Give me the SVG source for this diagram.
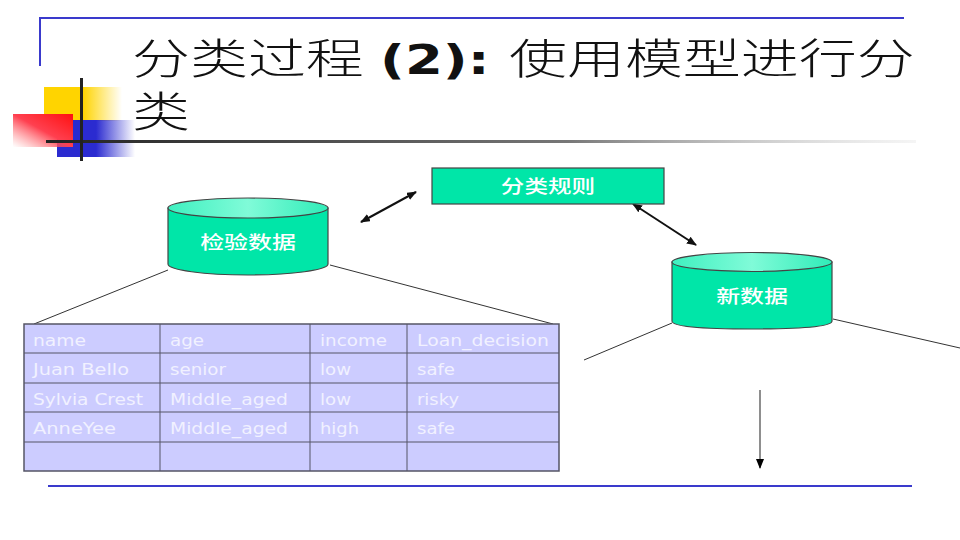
<svg xmlns="http://www.w3.org/2000/svg" width="960" height="540" viewBox="0 0 960 540">
<style>
.title{font-family:"Noto Sans CJK SC","Noto Sans",sans-serif;font-weight:300;font-size:42px;fill:#111}
.b{font-family:"DejaVu Sans",sans-serif;font-weight:700;font-size:41px;fill:#111}
.lab{font-family:"Noto Sans CJK SC",sans-serif;font-weight:500;font-size:18px;fill:#fff;text-anchor:middle}
.cell{font-family:"DejaVu Sans",sans-serif;font-size:15px;fill:#f1f1ff}
.grid{stroke:#555566;fill:none}
.thin{stroke:#333;stroke-width:1;fill:none}
.dbl{stroke:#111;stroke-width:2;fill:none;marker-start:url(#as);marker-end:url(#ae)}
.cyl{fill:#00e6a8;stroke:#444;stroke-width:1.2}
.top{fill:url(#topg);stroke:#444;stroke-width:1.2}
.rule{stroke:#3a3acc;stroke-width:2;fill:none}
</style>
<defs>
<marker id="ae" markerWidth="10" markerHeight="8" refX="9" refY="4" orient="auto" markerUnits="userSpaceOnUse"><path d="M0 0L10 4L0 8z" fill="#111"/></marker>
<marker id="as" markerWidth="10" markerHeight="8" refX="1" refY="4" orient="auto" markerUnits="userSpaceOnUse"><path d="M10 0L0 4L10 8z" fill="#111"/></marker>
<marker id="ad" markerWidth="10" markerHeight="8" refX="9" refY="4" orient="auto" markerUnits="userSpaceOnUse"><path d="M0 0L10 4L0 8z" fill="#000"/></marker>
<linearGradient id="topg" x1="0" y1="0" x2="1" y2="0"><stop offset="0" stop-color="#3ff0c0"/><stop offset=".5" stop-color="#80fbd8"/><stop offset="1" stop-color="#30ecb8"/></linearGradient>
<linearGradient id="yg" x1="0" y1="0" x2="1" y2="0"><stop offset="0" stop-color="#ffd400"/><stop offset=".5" stop-color="#ffd400"/><stop offset="1" stop-color="#ffd400" stop-opacity="0"/></linearGradient>
<linearGradient id="bg" x1="0" y1="0" x2="1" y2="0"><stop offset="0" stop-color="#2b2bd0"/><stop offset=".5" stop-color="#2b2bd0"/><stop offset="1" stop-color="#2b2bd0" stop-opacity="0"/></linearGradient>
<linearGradient id="rg" x1="1" y1="0" x2="0" y2="1"><stop offset="0" stop-color="#ff1010"/><stop offset=".5" stop-color="#ff4050"/><stop offset="1" stop-color="#ff8080" stop-opacity="0"/></linearGradient>
<linearGradient id="lg" x1="0" y1="0" x2="1" y2="0"><stop offset="0" stop-color="#222"/><stop offset=".6" stop-color="#777"/><stop offset="1" stop-color="#ccc" stop-opacity=".2"/></linearGradient>
</defs>
<rect width="960" height="540" fill="#fff"/>
<g id="frame"><path class="rule" d="M40 66V18H904"/><path class="rule" d="M48 486H912"/></g>
<g id="logo">
<rect x="44" y="87" width="78" height="34" fill="url(#yg)"/>
<rect x="57" y="120" width="78" height="37" fill="url(#bg)"/>
<rect x="13" y="114" width="60" height="33" fill="url(#rg)"/>
<rect x="46" y="140" width="870" height="3" fill="url(#lg)"/>
<rect x="80" y="78" width="3" height="83" fill="#222"/>
</g>
<g id="title">
<text class="title" transform="translate(132 74) scale(1.38 1)"><tspan x="0">分</tspan><tspan x="42">类</tspan><tspan x="84">过</tspan><tspan x="126">程</tspan></text>
<text class="b" transform="translate(380 74) scale(1.33 1)">(2):</text>
<text class="title" transform="translate(509 74) scale(1.38 1)"><tspan x="0">使</tspan><tspan x="42">用</tspan><tspan x="84">模</tspan><tspan x="126">型</tspan><tspan x="168">进</tspan><tspan x="210">行</tspan><tspan x="252">分</tspan></text>
<text class="title" transform="translate(132 127) scale(1.38 1)">类</text>
</g>
<g id="connectors">
<path class="dbl" d="M361 222L416 192"/>
<path class="dbl" d="M633 204L696 245"/>
<path class="thin" d="M168 270L34 324"/>
<path class="thin" d="M330 265L553 324"/>
<path class="thin" d="M672 323L584 360"/>
<path class="thin" d="M833 319L960 348"/>
<path d="M760 390V468" stroke="#444" stroke-width="1.2" fill="none" marker-end="url(#ad)"/>
</g>
<g id="rule-node"><rect x="432" y="168" width="232" height="36" fill="#00e6a8" stroke="#444" stroke-width="1.2"/><text class="lab" transform="translate(548 193) scale(1.31 1)">分类规则</text></g>
<g id="test-data">
<path class="cyl" d="M168 208V264C168 270 204 275 248 275S328 270 328 264V208z"/>
<ellipse class="top" cx="248" cy="208" rx="80" ry="10"/>
<text class="lab" transform="translate(248 249) scale(1.33 1)">检验数据</text>
</g>
<g id="new-data">
<path class="cyl" d="M672 262V321C672 327 708 329 752 329S832 327 832 321V262z"/>
<ellipse class="top" cx="752" cy="262" rx="80" ry="9.500"/>
<text class="lab" transform="translate(752 303) scale(1.33 1)">新数据</text>
</g>
<g id="table">
<rect x="24" y="324" width="535" height="147" fill="#ccccff"/>
<path class="grid" d="M24 353H559M24 383H559M24 412H559M24 442H559M160 324V471M310 324V471M407 324V471"/>
<rect x="24" y="324" width="535" height="147" class="grid" stroke-width="1.5"/>
<text class="cell" x="33" y="346" textLength="53" lengthAdjust="spacingAndGlyphs">name</text>
<text class="cell" x="170" y="346" textLength="34" lengthAdjust="spacingAndGlyphs">age</text>
<text class="cell" x="320" y="346" textLength="67" lengthAdjust="spacingAndGlyphs">income</text>
<text class="cell" x="417" y="346" textLength="132" lengthAdjust="spacingAndGlyphs">Loan_decision</text>
<text class="cell" x="33" y="375" textLength="96" lengthAdjust="spacingAndGlyphs">Juan Bello</text>
<text class="cell" x="170" y="375" textLength="56" lengthAdjust="spacingAndGlyphs">senior</text>
<text class="cell" x="320" y="375" textLength="31" lengthAdjust="spacingAndGlyphs">low</text>
<text class="cell" x="417" y="375" textLength="38" lengthAdjust="spacingAndGlyphs">safe</text>
<text class="cell" x="33" y="405" textLength="110" lengthAdjust="spacingAndGlyphs">Sylvia Crest</text>
<text class="cell" x="170" y="405" textLength="118" lengthAdjust="spacingAndGlyphs">Middle_aged</text>
<text class="cell" x="320" y="405" textLength="31" lengthAdjust="spacingAndGlyphs">low</text>
<text class="cell" x="417" y="405" textLength="42" lengthAdjust="spacingAndGlyphs">risky</text>
<text class="cell" x="33" y="434" textLength="83" lengthAdjust="spacingAndGlyphs">AnneYee</text>
<text class="cell" x="170" y="434" textLength="118" lengthAdjust="spacingAndGlyphs">Middle_aged</text>
<text class="cell" x="320" y="434" textLength="39" lengthAdjust="spacingAndGlyphs">high</text>
<text class="cell" x="417" y="434" textLength="38" lengthAdjust="spacingAndGlyphs">safe</text>
</g>
</svg>
